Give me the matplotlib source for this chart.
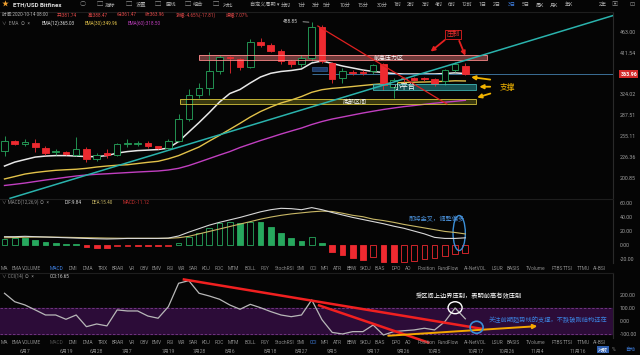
import matplotlib
matplotlib.use('Agg')
import numpy as np
import matplotlib.pyplot as plt
import matplotlib.transforms as mtransforms
from matplotlib.patches import Rectangle, Ellipse
from matplotlib.ticker import FixedLocator, NullLocator, FuncFormatter

plt.rcParams['font.family'] = ['Roboto', 'Noto Sans CJK SC', 'DejaVu Sans']

# ---- data (3-day candles, ETH/USD Bitfinex) ----
candle_dates = ['6/1', '6/4', '6/7', '6/10', '6/13', '6/16', '6/19', '6/22', '6/25', '6/28',
                '7/1', '7/4', '7/7', '7/10', '7/13', '7/16', '7/19', '7/22', '7/25', '7/28',
                '7/31', '8/3', '8/6', '8/9', '8/12', '8/15', '8/18', '8/21', '8/24', '8/27',
                '8/30', '9/2', '9/5', '9/8', '9/11', '9/14', '9/17', '9/20', '9/23', '9/26',
                '9/29', '10/2', '10/5', '10/8', '10/11', '10/14']
opens = [235, 248, 245, 246, 239, 233, 234, 230, 237, 224, 232, 230, 244, 244, 246, 241, 239, 249, 282, 324,
         336, 371, 401, 396, 380, 436, 430, 416, 391, 386, 398, 477, 387, 355, 369, 369, 370, 385, 339, 356,
         355, 356, 353, 350, 372, 381.74]
highs = [256, 250, 251, 251, 241, 238, 235, 254, 240, 232, 238, 246, 251, 248, 248, 242, 251, 290, 334, 345,
         413, 405, 403, 398, 445, 447, 434, 420, 395, 405, 488.85, 480, 390, 376, 372, 372, 385, 388, 356, 358,
         358, 358, 356, 375, 390, 388.47]
lows = [228, 243, 241, 233, 229, 230, 229, 228, 221, 222, 226, 228, 240, 241, 239, 237, 237, 247, 278, 317,
        323, 365, 366, 372, 376, 425, 412, 385, 378, 380, 392, 388, 345, 345, 362, 363, 365, 332, 317, 348,
        349, 350, 340, 342, 368, 361.47]
closes = [249, 245, 247, 240, 232, 235, 231, 238, 224, 230, 230, 244, 246, 246, 241, 239, 249, 282, 323, 336,
          371, 401, 398, 380, 437, 430, 416, 391, 386, 398, 477, 391, 353, 370, 366, 366, 383, 342, 352, 353,
          352, 353, 344, 372, 385, 363.96]

ema12 = [215.6, 220.5, 223.7, 226.9, 228.2, 228.8, 228.8, 228.2, 227.5, 227.5, 228.8, 232.1, 234.1, 235.4,
         236.1, 236.8, 238.8, 247.9, 261.7, 276.2, 292.4, 310.5, 325.8, 333.4, 346, 358, 365.6, 369.4, 371.5,
         374.7, 387.7, 392.1, 386.6, 381.1, 376.8, 372.5, 369.4, 367.2, 365.2, 364.1, 364.1, 364.1, 364.1,
         365.2, 366.5, 365.03]
ema30 = [200.3, 203.1, 206, 207.8, 209.2, 210.4, 211.1, 211.7, 212.8, 214.4, 215.6, 216.6, 217.2, 218.7,
         220.2, 221.5, 224.7, 228.8, 234.5, 240.3, 248.6, 256.8, 265.7, 275, 285, 294.1, 301.7, 308.7, 314,
         320.3, 328.1, 333, 335.6, 337.2, 339.1, 341.1, 343, 344.5, 346, 346.9, 347.5, 347.9, 348.5, 349.3,
         350.3, 349.96]
ema60 = [193, 194.3, 195.7, 197.4, 199.1, 200.6, 202.2, 203.7, 204.9, 205.7, 206.3, 207, 207.7, 208.4, 209,
         209.6, 210.8, 212.8, 216.2, 220.5, 225, 229.6, 234.1, 239.6, 244.4, 249.3, 253.9, 258.7, 263.2,
         267.7, 273.1, 277.8, 281.8, 285, 288.3, 291.6, 294.6, 297.5, 300, 302.4, 304.3, 306.4, 308.3, 310.1,
         311.7, 313.5]

macd_hist = [7.7, 9.5, 9.1, 6.7, 4.3, 2.9, 0.6, 0.6, -3.7, -4, -4.5, -2, -1.5, -1.5, -1.8, -1.8, -1.3, 2.9,
             11.4, 17.2, 24.3, 30.5, 32, 30.5, 32.9, 32, 25.8, 17.2, 9.1, 5.3, 11.4, 2, -10, -14.7, -19.5,
             -21.9, -17.1, -24.3, -25.7, -24.3, -22.9, -20.9, -19.5, -16.1, -13.3, -11.12]
dif = [11.5, 11.5, 12, 11.5, 11, 10.5, 10, 9.5, 9, 8.5, 8.2, 8.5, 9, 9, 9, 9, 9.5, 12.5, 18, 23, 28, 32,
       35.5, 39, 43, 47, 50, 52, 51.5, 50, 53, 50, 46, 42.5, 39, 36, 33, 30, 26.5, 23.5, 19.5, 15.5, 10.5, 9,
       9, 9.84]
dea = [10, 10.3, 10.7, 11, 11, 10.8, 10.6, 10.3, 10, 9.8, 9.5, 9.3, 9.2, 9.2, 9.2, 9.2, 9.2, 10, 12, 15.5,
       19, 22.5, 26, 29.5, 33, 36.5, 39.5, 42, 44, 45.5, 47, 48, 47.5, 45, 42, 40, 36.5, 34.5, 32, 29, 26.5,
       24, 21.5, 19, 17.5, 15.4]
cci = [213, 148, 123, 85, 46, 46, 13, 46, -44, -23, -38, 85, 77, 77, 38, 21, 110, 290, 310, 213, 192, 167,
       123, 90, 128, 102, 72, 46, 33, 46, 162, 10, -88, -100, -82, -82, -31, -108, -82, -75, -69, -56, -69,
       -5, 100, 16.65]

tick_labels = ['6月7', '6月19', '6月28', '7月7', '7月19', '7月28', '8月6', '8月18', '8月27', '9月5',
               '9月17', '9月26', '10月5', '10月17', '10月26', '11月4', '11月16']
tick_pos = [2, 6, 9, 12, 16, 19, 22, 26, 29, 32, 36, 39, 42, 46, 49, 52, 56]

price_ticks = [200.85, 226.36, 255.11, 287.51, 324.02, 411.54, 463.00]
macd_ticks = [-20, 0, 20, 40, 60]
cci_ticks = [-100, 0, 100, 200]

tabs = ['MA', 'EMA', 'VOLUME', 'MACD', 'DMI', 'DMA', 'TRIX', 'BRAR', 'VR', 'OBV', 'EMV', 'RSI', 'WR',
        'SAR', 'KDJ', 'ROC', 'MTM', 'BOLL', 'PSY', 'StochRSI', 'SMI', 'CCI', 'MFI', 'ATR', 'BBW', 'SKDJ',
        'BIAS', 'DPO', 'AO', 'Position', 'FundFlow', 'AI-NetVOL', 'LSUR', 'BASIS', 'TVolume', 'FTBS',
        'TTSI', 'TTMU', 'AI-BSI']
tab_x = [4, 17, 32, 57, 73, 88, 103, 118, 132, 144, 157, 170, 182, 193, 206, 219, 233, 250, 265, 285,
         301, 313, 325, 337, 352, 366, 380, 396, 408, 427, 448, 475, 497, 513, 536, 557, 568, 583, 599]

BG = '#050505'
GREY = '#8a8a8a'
UP = '#27a85e'
DOWN = '#ee2a30'
XLIM = (-0.44, 59.42)

fig = plt.figure(figsize=(6.4, 3.55), dpi=100, facecolor=BG)


def fx(px):
    return px / 640.0


def fy(py):
    return 1 - py / 355.0


def ftext(px, py, s, **kw):
    kw.setdefault('fontsize', 3.6)
    kw.setdefault('color', GREY)
    kw.setdefault('va', 'center')
    fig.text(fx(px), fy(py), s, **kw)


def panel(top, bottom):
    ax = fig.add_axes([0, fy(bottom), 613 / 640, (bottom - top) / 355])
    ax.set_facecolor(BG)
    for s in ax.spines.values():
        s.set_visible(False)
    ax.spines['right'].set_visible(True)
    ax.spines['right'].set_color('#2a2a2a')
    ax.spines['top'].set_visible(True)
    ax.spines['top'].set_color('#1e1e1e')
    ax.set_xlim(*XLIM)
    ax.tick_params(axis='x', bottom=False, labelbottom=False)
    ax.yaxis.tick_right()
    ax.tick_params(axis='y', length=0, labelsize=3.8, labelcolor='#a0a0a0', pad=5)
    return ax


fmt2 = FuncFormatter(lambda v, p: '%.2f' % v)

# ---- main price panel ----
ax = panel(12, 199)
ax.set_yscale('log')
ax.set_ylim(178.7, 518.3)
ax.yaxis.set_major_locator(FixedLocator(price_ticks))
ax.yaxis.set_minor_locator(NullLocator())
ax.yaxis.set_major_formatter(fmt2)

# zones
zones = [(19.0, 47.1, 393.5, 405.7, '#f07a7a', 0.45, '#ff8c8c', '前高压力区', 37.5, 4.3),
         (17.1, 46.0, 306.4, 315.3, '#5e5c16', 0.6, '#d8c63c', '底部区间', 34.2, 4.3),
         (36.0, 46.0, 332.5, 343.9, '#1d6d70', 0.75, '#40b4b4', '小平台', 39.1, 5.3)]
for x0, x1, y0, y1, fc, al, ec, lab, lx, fs in zones:
    ax.add_patch(Rectangle((x0, y0), x1 - x0, y1 - y0, facecolor=fc, alpha=al, edgecolor='none', zorder=1))
    ax.add_patch(Rectangle((x0, y0), x1 - x0, y1 - y0, facecolor='none', edgecolor=ec, lw=0.6, zorder=4))
    ax.text(lx, np.sqrt(y0 * y1), lab, color='white', fontsize=fs, ha='center', va='center', zorder=6)

ax.add_patch(Rectangle((30.0, 370.3), 1.5, 8.7, facecolor='#1d3a6a', edgecolor='#3c6ea8', lw=0.4, zorder=5))

x = np.arange(len(opens))
ax.plot(x, ema60, color='#c13fc0', lw=1.0, zorder=2)
ax.plot(x, ema30, color='#e2c24a', lw=1.0, zorder=2)
ax.plot(x, ema12, color='#e8e8e8', lw=1.1, zorder=2)

for i in x:
    o, h, l, c = opens[i], highs[i], lows[i], closes[i]
    up = c >= o
    col = UP if up else DOWN
    lo_b, hi_b = min(o, c), max(o, c)
    ax.vlines(i, l, lo_b, color=col, lw=0.6, zorder=3)
    ax.vlines(i, hi_b, h, color=col, lw=0.6, zorder=3)
    if hi_b - lo_b < 2:
        ax.hlines((o + c) / 2, i - 0.32, i + 0.32, color=col, lw=1.3, zorder=3)
    else:
        ax.add_patch(Rectangle((i - 0.32, lo_b), 0.64, hi_b - lo_b, facecolor=BG if up else col,
                               edgecolor=col, lw=0.6, zorder=3))

# drawn trend lines
ax.plot([0.54, 59.6], [179.4, 509.5], color='#2ab3ad', lw=1.1, zorder=4)
ax.plot([30.6, 43.2], [478.6, 306.9], color='#e02020', lw=0.9, zorder=4)
ax.hlines(closes[-1], 30, XLIM[1], color='#3b6f96', lw=0.7, zorder=2)

ax.annotate('488.85', xy=(30, 488.85), xytext=(28.6, 492), color='#d0d0d0', fontsize=3.5,
            ha='right', va='center', arrowprops=dict(arrowstyle='-', color='#d0d0d0', lw=0.5))

red_arrows = [((43.2, 446.2), (41.4, 409.6)), ((44.3, 446.2), (45.1, 398.2))]
for s, e in red_arrows:
    ax.annotate('', xy=e, xytext=s, arrowprops=dict(arrowstyle='-|>', color='#e52020', lw=1.3,
                                                    mutation_scale=6), zorder=7)
ax.text(43.8, 456, '压制', color='#f03030', fontsize=4.8, ha='center', va='center', zorder=7,
        bbox=dict(boxstyle='square,pad=0.15', fc=BG, ec='#e52020', lw=0.6))

yel_arrows = [((47.7, 352.0), (45.3, 358.5)), ((47.7, 338.7), (46.1, 338.7)), ((47.7, 327.3), (45.9, 317.0))]
for s, e in yel_arrows:
    ax.annotate('', xy=e, xytext=s, arrowprops=dict(arrowstyle='-|>', color='#f2b400', lw=1.3,
                                                    mutation_scale=6), zorder=7)
ax.text(49.1, 338.7, '支撑', color='#f2b400', fontsize=5.6, ha='center', va='center', zorder=7)

trans = mtransforms.blended_transform_factory(ax.transAxes, ax.transData)
ax.text(1.012, closes[-1], '%.2f' % closes[-1], transform=trans, color='white', fontsize=3.8,
        ha='left', va='center', fontweight='bold', clip_on=False,
        bbox=dict(boxstyle='square,pad=0.25', fc='#d42a2a', ec='none'))

# ---- MACD panel ----
am = panel(199, 263)
am.set_ylim(-26.1, 65.3)
am.yaxis.set_major_locator(FixedLocator(macd_ticks))
am.yaxis.set_major_formatter(fmt2)
prev = None
for i, v in enumerate(macd_hist):
    col = UP if v >= 0 else DOWN
    hollow = prev is None or v > prev
    am.bar(i, v, width=0.56, facecolor=BG if hollow else col, edgecolor=col, lw=0.6)
    prev = v
am.plot(x, dea, color='#c9b866', lw=0.8)
am.plot(x, dif, color='#d8d8d8', lw=0.8)
am.add_patch(Ellipse((44.4, 16.7), 1.2, 50, facecolor='none', edgecolor='#3a8fd8', lw=1.0))
am.text(42.2, 36.7, '即将金叉，调整偏多', color='#4a90d9', fontsize=4.5, ha='center', va='center')

# ---- CCI panel ----
ac = panel(273, 338)
ac.set_ylim(-131, 369)
ac.yaxis.set_major_locator(FixedLocator(cci_ticks))
ac.yaxis.set_major_formatter(fmt2)
ac.axhspan(-100, 100, color='#2c0c38', zorder=0)
ac.axhline(100, color='#7b3c8c', lw=0.6, ls=(0, (3, 2)), zorder=1)
ac.axhline(-100, color='#7b3c8c', lw=0.6, ls=(0, (3, 2)), zorder=1)
ac.plot(x, cci, color='#b8b8b8', lw=0.9, zorder=3)
ac.plot([17.4, 46.7], [321, -61.5], color='#f02020', lw=1.8, zorder=4, solid_capstyle='butt')
ac.plot([30.6, 41.5], [123, -169], color='#f02020', lw=1.8, zorder=4, clip_on=False, solid_capstyle='butt')
ac.annotate('', xy=(52.3, -38.5), xytext=(37.2, -115),
            arrowprops=dict(arrowstyle='-|>', color='#f5a800', lw=1.4, mutation_scale=6), zorder=5)
ac.add_patch(Ellipse((44.0, 102), 1.37, 92, facecolor='none', edgecolor='white', lw=1.0, zorder=5))
ac.add_patch(Ellipse((46.1, -48.5), 1.27, 92, facecolor='none', edgecolor='#3a8fd8', lw=1.2, zorder=5))
ac.text(45.3, 192, '受区间上边界压制，表明前高有效压制', color='white', fontsize=4.5, ha='center', va='center')
ac.text(53.1, 7.7, '关注前期趋势线的支撑，不跌破则结构还在', color='#3b82e0', fontsize=4.5,
        ha='center', va='center')
ac.xaxis.set_major_locator(FixedLocator(tick_pos))
ac.set_xticklabels(tick_labels)
ac.tick_params(axis='x', bottom=False, labelbottom=True, labelsize=3.6, labelcolor=GREY, pad=4.3)

# ---- headers / toolbar ----
ftext(5, 5, '★', color='#f0a030', fontsize=5, ha='center')
ftext(13, 5, 'ETH/USD Bitfinex', color='#e0e0e0', fontsize=4.4, fontweight='bold', ha='left')
ftext(83, 5, '○', color=GREY, fontsize=4.5, ha='center')
for icon_x, txt_x, txt in [(100, 110, '指标'), (129, 141, '设置'), (158, 171, '画线'), (188, 198, '组合'),
                           (216, 228, '对比')]:
    ftext(icon_x, 5, '▢', color=GREY, fontsize=4.5, ha='center')
    ftext(txt_x, 5, txt, color='#b0b0b0', fontsize=3.8, ha='center')
periods = [('自定义周期 ▾', 265), ('分时', 286), ('1分', 302), ('3分', 316), ('5分', 327), ('10分', 345),
           ('15分', 363), ('30分', 382), ('1时', 398), ('2时', 411), ('3时', 426), ('4时', 439),
           ('6时', 452), ('12时', 467), ('1日', 483), ('2日', 497), ('3日', 512), ('5日', 526),
           ('周K', 540), ('月K', 554), ('年K', 569), ('2年', 603)]
for p, px in periods:
    ftext(px, 5, p, color='#3f7fe0' if p == '3日' else '#b0b0b0', fontsize=3.7, ha='center')
ftext(615, 5, '▣', color=GREY, fontsize=4.5, ha='center')
ftext(632, 5, '⊡', color=GREY, fontsize=4.5, ha='center')

info = [('时间:2020-10-14 08:00', 2, '#b0b0b0'), ('开:381.74', 57, '#e04848'), ('高:388.47', 88, '#e04848'),
        ('低:361.47', 117, '#e04848'), ('收:363.96', 145, '#e04848'), ('涨幅:-4.65%(-17.81)', 176, '#e04848'),
        ('振幅:7.07%', 226, '#e04848')]
for s, px, c in info:
    ftext(px, 15, s, color=c, fontsize=3.3, ha='left')

ftext(2, 23, '∨  EMA  ⊙  ×', color=GREY, fontsize=3.3, ha='left')
ftext(42, 23, 'EMA(12):365.03', color='#e0e0e0', fontsize=3.3, ha='left')
ftext(85, 23, 'EMA(30):349.96', color='#e2c24a', fontsize=3.3, ha='left')
ftext(128, 23, 'EMA(60):318.50', color='#c13fc0', fontsize=3.3, ha='left')

ftext(2, 202.5, '∨ MACD(12,26,9) ⊙  ×', color=GREY, fontsize=3.3, ha='left')
ftext(65, 202.5, 'DIF:9.84', color='#d8d8d8', fontsize=3.3, ha='left')
ftext(92, 202.5, 'DEA:15.40', color='#c9b866', fontsize=3.3, ha='left')
ftext(123, 202.5, 'MACD:-11.12', color='#c83030', fontsize=3.3, ha='left')

ftext(2, 276, '∨ CCI(14) ⊙  ×', color=GREY, fontsize=3.3, ha='left')
ftext(50, 276, 'CCI:16.65', color='#d8d8d8', fontsize=3.3, ha='left')

for name, px in zip(tabs, tab_x):
    ftext(px, 268.5, name, color='#3f7fe0' if name == 'MACD' else GREY, fontsize=3.5, ha='center')
    ftext(px, 342, name, color='#3f7fe0' if name == 'CCI' else ('#4a4a4a' if name == 'MACD' else GREY),
          fontsize=3.5, ha='center')

ftext(603, 349.5, '对数', color='white', fontsize=3.6, ha='center',
      bbox=dict(boxstyle='square,pad=0.15', fc='#2f5fb0', ec='none'))
ftext(614, 349.5, '%', color=GREY, fontsize=3.6, ha='center')
ftext(630, 349.5, '自动', color='#3f7fe0', fontsize=3.6, ha='center')

fig.savefig('out.png', dpi=100, facecolor=BG)
